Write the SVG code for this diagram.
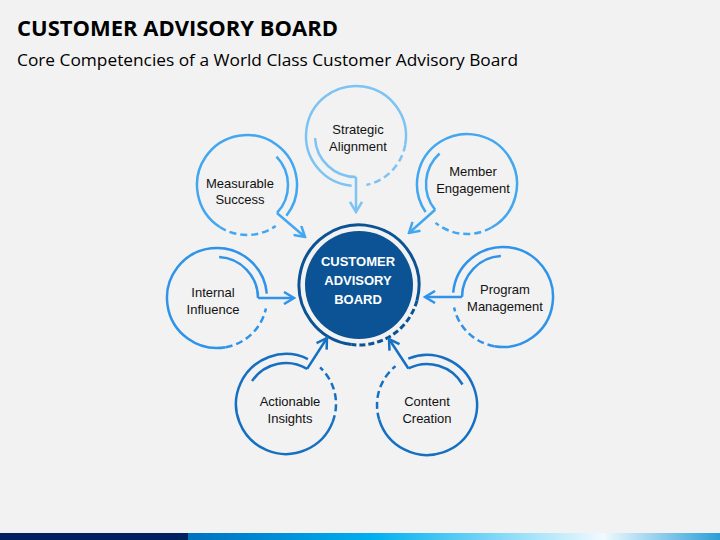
<svg xmlns="http://www.w3.org/2000/svg" width="720" height="540" viewBox="0 0 720 540">
<defs>
<style>
.t{font-family:"Liberation Sans",Arial,sans-serif;font-size:13px;fill:#111;text-anchor:middle}
.ln{fill:none;stroke-width:2.5}
.d{stroke-dasharray:7 4}
.c1{stroke:#7dc3f3}.c2{stroke:#42a7f0}.c3{stroke:#2f93ea}.c4{stroke:#1670c2}
.mt{font-family:"Liberation Sans",Arial,sans-serif;font-size:13px;font-weight:bold;fill:#fff;text-anchor:middle}
</style>
<marker id="a1" markerUnits="userSpaceOnUse" markerWidth="14" markerHeight="14" viewBox="0 0 14 14" refX="12" refY="7" orient="auto"><path d="M2,1 L12,7 L2,13" fill="none" stroke="#7dc3f3" stroke-width="2.5"/></marker>
<marker id="a2" markerUnits="userSpaceOnUse" markerWidth="14" markerHeight="14" viewBox="0 0 14 14" refX="12" refY="7" orient="auto"><path d="M2,1 L12,7 L2,13" fill="none" stroke="#42a7f0" stroke-width="2.5"/></marker>
<marker id="a3" markerUnits="userSpaceOnUse" markerWidth="14" markerHeight="14" viewBox="0 0 14 14" refX="12" refY="7" orient="auto"><path d="M2,1 L12,7 L2,13" fill="none" stroke="#2f93ea" stroke-width="2.5"/></marker>
<marker id="a4" markerUnits="userSpaceOnUse" markerWidth="14" markerHeight="14" viewBox="0 0 14 14" refX="12" refY="7" orient="auto"><path d="M2,1 L12,7 L2,13" fill="none" stroke="#1670c2" stroke-width="2.5"/></marker>
<linearGradient id="bar" x1="0" y1="0" x2="1" y2="0">
<stop offset="0" stop-color="#0070c0"/>
<stop offset="0.35" stop-color="#00b0f0"/>
<stop offset="0.78" stop-color="#f0fafe"/>
<stop offset="1" stop-color="#2a9fd8"/>
</linearGradient>
</defs>
<rect width="720" height="540" fill="#f2f2f2"/>
<text x="17" y="36" font-family="'Open Sans','Liberation Sans',sans-serif" font-weight="bold" font-size="22" fill="#000" textLength="321" lengthAdjust="spacingAndGlyphs">CUSTOMER ADVISORY BOARD</text>
<text x="17" y="66" font-family="'Open Sans','Liberation Sans',sans-serif" font-size="17" fill="#000" textLength="501" lengthAdjust="spacingAndGlyphs">Core Competencies of a World Class Customer Advisory Board</text>

<g id="center">
<circle cx="359" cy="285" r="54" fill="#0b5394"/>
<path d="M351.69,344.55 A60,60 0 1 1 416.96,300.53" fill="none" stroke="#0b5394" stroke-width="3"/>
<path d="M416.96,300.53 A60,60 0 0 1 351.69,344.55" fill="none" stroke="#0b5394" stroke-width="3" stroke-dasharray="6 3"/>
<text class="mt" x="358" y="266">CUSTOMER</text>
<text class="mt" x="358" y="285">ADVISORY</text>
<text class="mt" x="358" y="304">BOARD</text>
</g>

<g id="strategic">
<path class="ln c1" d="M351.64,185.81 A50,50 0 1 1 405.24,144.68"/>
<path class="ln c1 d" d="M405.24,144.68 A50,50 0 0 1 366.40,184.91"/>
<path class="ln c1" d="M315.06,138.15 A41,41 0 0 0 356,177"/>
<text class="t" x="358" y="134">Strategic</text>
<text class="t" x="358" y="151">Alignment</text>
</g>

<g id="measurable">
<path class="ln c2" d="M286.40,215.78 A50,50 0 1 0 219.77,226.93"/>
<path class="ln c2 d" d="M219.77,226.93 A50,50 0 0 0 275.68,225.96"/>
<path class="ln c2" d="M276.49,156.52 A41,41 0 0 1 276.99,212.96"/>
<text class="t" x="240" y="188">Measurable</text>
<text class="t" x="240" y="204">Success</text>
</g>

<g id="member">
<path class="ln c2" d="M425.55,211.96 A50,50 0 1 1 491.24,227.73"/>
<path class="ln c2 d" d="M491.24,227.73 A50,50 0 0 1 435.54,222.86"/>
<path class="ln c2" d="M439.57,153.53 A41,41 0 0 0 435.14,209.80"/>
<text class="t" x="473" y="176">Member</text>
<text class="t" x="473" y="193">Engagement</text>
</g>

<g id="internal">
<path class="ln c3" d="M266.81,293.64 A50,50 0 1 0 225.68,347.24"/>
<path class="ln c3 d" d="M225.68,347.24 A50,50 0 0 0 265.91,308.40"/>
<path class="ln c3" d="M219.15,257.06 A41,41 0 0 1 258,298"/>
<text class="t" x="213" y="297">Internal</text>
<text class="t" x="213" y="314">Influence</text>
</g>

<g id="program">
<path class="ln c3" d="M453.19,292.64 A50,50 0 1 1 494.32,346.24"/>
<path class="ln c3 d" d="M494.32,346.24 A50,50 0 0 1 454.09,307.40"/>
<path class="ln c3" d="M500.85,256.06 A41,41 0 0 0 462,297"/>
<text class="t" x="505" y="294">Program</text>
<text class="t" x="505" y="311">Management</text>
</g>

<g id="actionable">
<path class="ln c4" d="M307.92,359.06 A50,50 0 1 0 332.68,421.92"/>
<path class="ln c4 d" d="M332.68,421.92 A50,50 0 0 0 320.10,367.43"/>
<path class="ln c4" d="M252.01,381.07 A41,41 0 0 1 307.12,368.86"/>
<text class="t" x="290" y="406">Actionable</text>
<text class="t" x="290" y="423">Insights</text>
</g>

<g id="content">
<path class="ln c4" d="M408.27,358.64 A50,50 0 1 1 379.19,419.62"/>
<path class="ln c4 d" d="M379.19,419.62 A50,50 0 0 1 395.53,366.14"/>
<path class="ln c4" d="M462.51,384.5 A41,41 0 0 0 408.39,368.47"/>
<text class="t" x="427" y="406">Content</text>
<text class="t" x="427" y="423">Creation</text>
</g>

<g id="connectors">
<line class="ln c1" x1="356" y1="177" x2="356" y2="212" marker-end="url(#a1)"/>
<line class="ln c2" x1="276.99" y1="212.96" x2="305" y2="237" marker-end="url(#a2)"/>
<line class="ln c2" x1="435.14" y1="209.80" x2="409" y2="233" marker-end="url(#a2)"/>
<line class="ln c3" x1="258" y1="298" x2="294" y2="298" marker-end="url(#a3)"/>
<line class="ln c3" x1="462" y1="297" x2="425" y2="297" marker-end="url(#a3)"/>
<line class="ln c4" x1="307.12" y1="368.86" x2="327" y2="338" marker-end="url(#a4)"/>
<line class="ln c4" x1="408.39" y1="368.47" x2="389" y2="339" marker-end="url(#a4)"/>
</g>

<rect x="0" y="533" width="188" height="7" fill="#002060"/>
<rect x="188" y="533" width="532" height="7" fill="url(#bar)"/>
</svg>
